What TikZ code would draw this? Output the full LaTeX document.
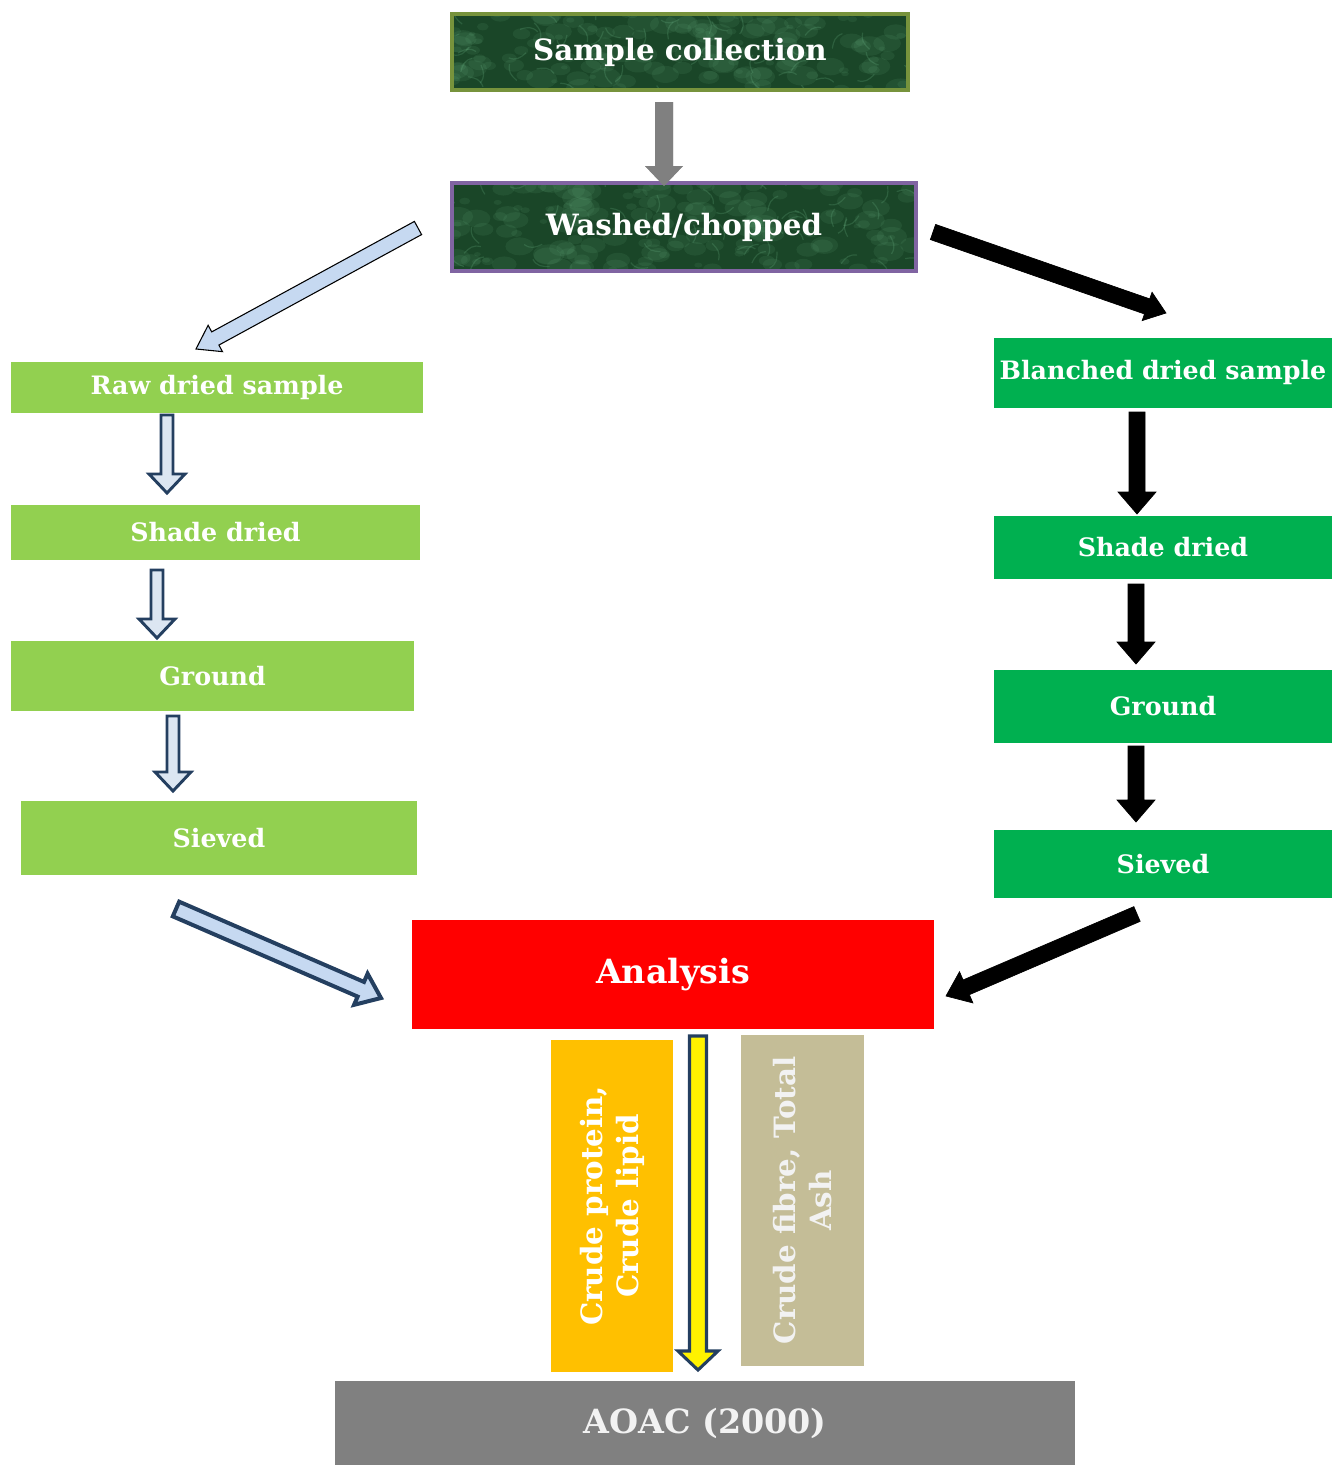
\documentclass[tikz,border=0pt]{standalone}
\usepackage{fontspec}
\setmainfont{DejaVu Serif}
\usetikzlibrary{calc}
\definecolor{olivebd}{HTML}{77933C}
\definecolor{purplebd}{HTML}{8064A2}
\definecolor{texgreen}{HTML}{1A4628}
\definecolor{texlight}{HTML}{6FB889}
\definecolor{lgreen}{HTML}{92D050}
\definecolor{dgreen}{HTML}{00B050}
\definecolor{navy}{HTML}{243F60}
\definecolor{paleblue}{HTML}{C6D9F1}
\definecolor{paleblue2}{HTML}{DCE6F2}
\definecolor{amber}{HTML}{FFC000}
\definecolor{tan}{HTML}{C4BD97}
\definecolor{greybox}{HTML}{808080}
\newcommand\blockarrow[6]{%
  \path let \p1=(#1), \p2=(#2) in \pgfextra{%
    \pgfmathsetmacro\tmpang{atan2(\y2-\y1,\x2-\x1)}%
    \pgfmathsetmacro\tmplen{veclen(\x2-\x1,\y2-\y1)/0.75}%
    \xdef\BAang{\tmpang}\xdef\BAlen{\tmplen}};
  \begin{scope}[shift={(#1)},rotate=\BAang,x=0.75pt,y=0.75pt]
    \draw[#3] (0,-#4) -- ({\BAlen-#6},-#4) -- ({\BAlen-#6},-#5) -- (\BAlen,0)
      -- ({\BAlen-#6},#5) -- ({\BAlen-#6},#4) -- (0,#4) -- cycle;
  \end{scope}}
\newcommand\shadowarrow[6]{%
  \begin{scope}[xshift=1.6pt,yshift=-2.2pt]
    \blockarrow{#1}{#2}{fill=black!45,draw=none,opacity=0.7}{#4}{#5}{#6}
  \end{scope}
  \blockarrow{#1}{#2}{#3}{#4}{#5}{#6}}
% textured dark-green background: x0 y0 width height seed
\newcommand\greentexture[5]{%
  \fill[texgreen] (#1,#2) rectangle ++(#3,#4);
  \begin{scope}
    \clip (#1,#2) rectangle ++(#3,#4);
    \pgfmathsetseed{#5}
    \foreach \i in {1,...,150}{
      \pgfmathsetmacro\rx{#1+rnd*#3}\pgfmathsetmacro\ry{#2+rnd*#4}\pgfmathsetmacro\rr{2+rnd*8}
      \fill[texlight,opacity=0.11] (\rx,\ry) ellipse ({\rr*1.6} and {\rr});
    }
    \foreach \i in {1,...,50}{
      \pgfmathsetmacro\rx{#1+rnd*#3}\pgfmathsetmacro\ry{#2+rnd*#4}\pgfmathsetmacro\ra{rnd*360}
      \draw[texlight,opacity=0.22,line width=0.9pt] (\rx,\ry) .. controls +(\ra:8) and +(\ra+60:-8) .. ++(\ra+25:18);
    }
  \end{scope}}
\tikzset{
  mw/.style={minimum width=#1*0.75pt},
  mh/.style={minimum height=#1*0.75pt},
  box/.style={rectangle,inner sep=0pt,text=white,draw=none},
  ftop/.style={font=\bfseries\fontsize{22}{26}\selectfont},
  fside/.style={font=\bfseries\fontsize{19}{23}\selectfont},
  bluearrow/.style={fill=paleblue2,draw=navy,line width=2.2pt,line join=miter},
  blackarrow/.style={fill=black,draw=black,line width=0.5pt}
}
\begin{document}
\begin{tikzpicture}[x=0.75pt,y=-0.75pt]
\useasboundingbox (0,0) rectangle (1332,1465);
% top boxes
\greentexture{452}{14}{456}{76}{11}
\greentexture{452}{183}{464}{88}{23}
\node[box,ftop,draw=olivebd,line width=2.3pt,mw=456,mh=76] (sc) at (680,52) {Sample collection};
\node[box,ftop,draw=purplebd,line width=2.3pt,mw=464,mh=88] (wc) at (684,227) {Washed/chopped};
% left column
\node[box,fside,fill=lgreen,mw=412,mh=51] (rawd) at (217,387.5) {Raw dried sample};
\node[box,fside,fill=lgreen,mw=409,mh=55] (shL) at (215.5,532.5) {Shade dried};
\node[box,fside,fill=lgreen,mw=403,mh=70] (grL) at (212.5,676) {Ground};
\node[box,fside,fill=lgreen,mw=396,mh=74] (svL) at (219,838) {Sieved};
% right column
\node[box,fside,fill=dgreen,mw=338,mh=70] (bl) at (1163,373) {Blanched dried sample};
\node[box,fside,fill=dgreen,mw=338,mh=63] (shR) at (1163,547.5) {Shade dried};
\node[box,fside,fill=dgreen,mw=338,mh=73] (grR) at (1163,706.5) {Ground};
\node[box,fside,fill=dgreen,mw=338,mh=68] (svR) at (1163,864) {Sieved};
% analysis
\node[box,font=\bfseries\fontsize{25}{30}\selectfont,fill=red,mw=522,mh=109] (an) at (673,974.5) {Analysis};
\node[box,font=\bfseries\fontsize{22}{27}\selectfont,fill=amber,rotate=90,mw=332,mh=122,align=center] (cp) at (612,1206) {Crude protein,\\Crude lipid};
\node[box,font=\bfseries\fontsize{22}{27}\selectfont,text=white!95!black,fill=tan,rotate=90,mw=331,mh=123,align=center] (cf) at (802.5,1200.5) {Crude fibre, Total\\Ash};
\node[box,font=\bfseries\fontsize{25}{30}\selectfont,text=white!95!black,fill=greybox,mw=740,mh=84] (ao) at (705,1423) {AOAC (2000)};
% connector end points
\coordinate (a0s) at (664,102);  \coordinate (a0e) at (664,186);
\coordinate (aLs) at (418,228);  \coordinate (aLe) at (196,349);
\coordinate (aRs) at (933,232);  \coordinate (aRe) at (1166,313);
\coordinate (l1s) at (167,415);  \coordinate (l1e) at (167,493);
\coordinate (l2s) at (157,570);  \coordinate (l2e) at (157,638);
\coordinate (l3s) at (173,716);  \coordinate (l3e) at (173,791);
\coordinate (lbs) at (176,909);  \coordinate (lbe) at (381,998);
\coordinate (r1s) at (1137,412); \coordinate (r1e) at (1137,514);
\coordinate (r2s) at (1136,584); \coordinate (r2e) at (1136,664);
\coordinate (r3s) at (1136,746); \coordinate (r3e) at (1136,822);
\coordinate (rbs) at (1137,914); \coordinate (rbe) at (946,996);
\coordinate (ys)  at (698,1036); \coordinate (ye)  at (698,1370);
% arrows
\shadowarrow{a0s}{a0e}{fill=greybox,draw=none}{9}{19}{20}
\shadowarrow{aLs}{aLe}{fill=paleblue,draw=black,line width=0.8pt}{7.5}{15}{22}
\shadowarrow{aRs}{aRe}{blackarrow}{8}{15}{20}
\blockarrow{l1s}{l1e}{bluearrow}{6}{18}{19}
\blockarrow{l2s}{l2e}{bluearrow}{6}{18}{19}
\blockarrow{l3s}{l3e}{bluearrow}{6}{18}{19}
\blockarrow{lbs}{lbe}{fill=paleblue,draw=navy,line width=3pt}{8}{17}{22}
\blockarrow{r1s}{r1e}{blackarrow}{8}{19}{22}
\blockarrow{r2s}{r2e}{blackarrow}{8}{19}{22}
\blockarrow{r3s}{r3e}{blackarrow}{8}{19}{22}
\blockarrow{rbs}{rbe}{blackarrow}{8}{17}{22}
\blockarrow{ys}{ye}{fill=yellow,draw=navy,line width=2.3pt}{8.5}{20}{19}
\end{tikzpicture}
\end{document}
